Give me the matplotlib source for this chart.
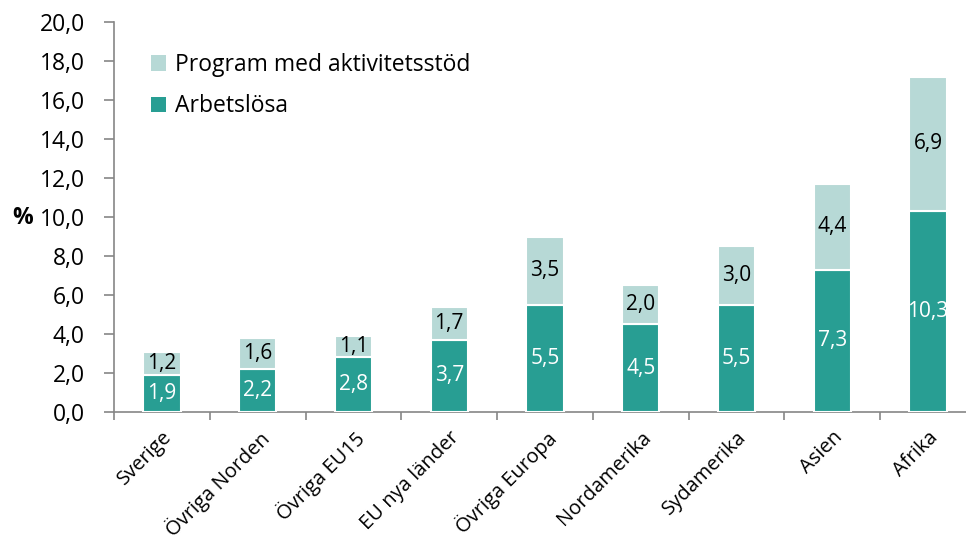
import matplotlib
matplotlib.use("Agg")
import matplotlib.pyplot as plt
from matplotlib.patches import Patch
import matplotlib.transforms as mtrans

categories = ["Sverige", "Övriga Norden", "Övriga EU15", "EU nya länder", "Övriga Europa",
              "Nordamerika", "Sydamerika", "Asien", "Afrika"]
arbetslosa = [1.9, 2.2, 2.8, 3.7, 5.5, 4.5, 5.5, 7.3, 10.3]
program = [1.2, 1.6, 1.1, 1.7, 3.5, 2.0, 3.0, 4.4, 6.9]
yticks = [0, 2, 4, 6, 8, 10, 12, 14, 16, 18, 20]

dark = "#289E93"
light = "#B7D9D6"
spine = "#868686"

plt.rcParams["font.family"] = ["Open Sans", "DejaVu Sans"]

W, H = 966, 545
fig = plt.figure(figsize=(W / 100, H / 100), dpi=100)
left, right, top, bottom = 114, 976, 22, 412
ax = fig.add_axes([left / W, 1 - bottom / H, (right - left) / W, (bottom - top) / H])

x = list(range(len(categories)))
bw = 0.39
ax.bar(x, arbetslosa, width=bw, color=dark, edgecolor="white", linewidth=1.5, zorder=3)
ax.bar(x, program, width=bw, bottom=arbetslosa, color=light, edgecolor="white", linewidth=1.5, zorder=3)

fs_lab = 15
fs_tick = 16.5
fs_leg = 16.5
fs_cat = 14.5
for i in x:
    ax.text(i, arbetslosa[i] / 2, f"{arbetslosa[i]:.1f}".replace(".", ","), ha="center", va="center",
            color="white", fontsize=fs_lab, zorder=4)
    ax.text(i, arbetslosa[i] + program[i] / 2, f"{program[i]:.1f}".replace(".", ","), ha="center",
            va="center", color="black", fontsize=fs_lab, zorder=4)

ax.set_xlim(-0.5, len(categories) - 0.5)
ax.set_ylim(0, 20)
ax.set_yticks(yticks)
ax.set_yticklabels([f"{v:.1f}".replace(".", ",") for v in yticks], fontsize=fs_tick)
ax.set_xticks([i - 0.5 for i in range(len(categories) + 1)])
ax.set_xticklabels([])
ax.set_xticks(x, minor=True)
labs = ax.set_xticklabels(categories, minor=True, rotation=45, ha="right", rotation_mode="anchor",
                          fontsize=fs_cat)
offset = mtrans.ScaledTranslation(6 / 100, 0, fig.dpi_scale_trans)
for t in labs:
    t.set_transform(t.get_transform() + offset)
ax.tick_params(axis="x", which="minor", length=0, pad=11)
ax.tick_params(axis="x", which="major", length=6, color=spine, width=1.2)
ax.tick_params(axis="y", length=7, color=spine, width=1.2, pad=14)

for s in ["top", "right"]:
    ax.spines[s].set_visible(False)
for s in ["left", "bottom"]:
    ax.spines[s].set_color(spine)
    ax.spines[s].set_linewidth(1.2)

fig.text(12 / W, 1 - 218 / H, "%", fontsize=fs_tick, fontweight="bold", ha="left", va="center")

handles = [Patch(facecolor=light, edgecolor="none"), Patch(facecolor=dark, edgecolor="none")]
ax.legend(handles, ["Program med aktivitetsstöd", "Arbetslösa"], loc="upper left",
          bbox_to_anchor=((142 - left) / (right - left), (412 - 44) / 390), frameon=False,
          fontsize=fs_leg, handlelength=0.65, handleheight=0.65, handletextpad=0.4, labelspacing=0.75,
          borderaxespad=0)

fig.savefig("out.png", dpi=100)
